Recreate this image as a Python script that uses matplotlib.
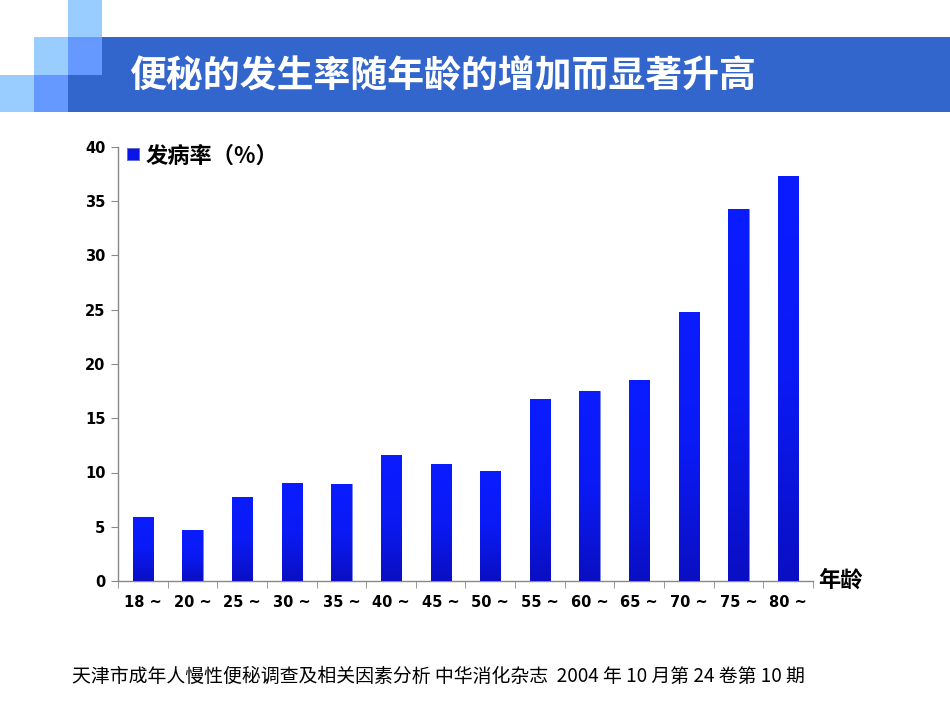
import matplotlib
matplotlib.use("Agg")
import matplotlib.pyplot as plt
import numpy as np
from matplotlib.patches import Rectangle
from matplotlib.colors import LinearSegmentedColormap

plt.rcParams['font.family'] = ['Noto Sans CJK SC', 'DejaVu Sans']

categories = ["18 ~", "20 ~", "25 ~", "30 ~", "35 ~", "40 ~", "45 ~", "50 ~",
              "55 ~", "60 ~", "65 ~", "70 ~", "75 ~", "80 ~"]
rates = [5.9, 4.7, 7.7, 9.0, 8.9, 11.6, 10.8, 10.1, 16.8, 17.5, 18.5, 24.8, 34.3, 37.3]
yticks = [0, 5, 10, 15, 20, 25, 30, 35, 40]
title = "便秘的发生率随年龄的增加而显著升高"
legend_label = "发病率（%）"
xlabel = "年龄"
footer = "天津市成年人慢性便秘调查及相关因素分析 中华消化杂志  2004 年 10 月第 24 卷第 10 期"

W, H = 950, 713
fig = plt.figure(figsize=(9.5, 7.13), dpi=100)
fig.patch.set_facecolor("white")

# header decoration (figure pixel coords)
deco = fig.add_axes([0, 0, 1, 1], zorder=-1)
deco.set_xlim(0, W)
deco.set_ylim(H, 0)
deco.axis("off")
light = "#99CCFF"
mid = "#6699FF"
band = "#3366CC"
deco.add_patch(Rectangle((102, 37), W - 102, 75, color=band, lw=0))
deco.add_patch(Rectangle((68, 75), 34, 37, color=band, lw=0))
deco.add_patch(Rectangle((68, 0), 34, 37, color=light, lw=0))
deco.add_patch(Rectangle((34, 37), 34, 38, color=light, lw=0))
deco.add_patch(Rectangle((68, 37), 34, 38, color=mid, lw=0))
deco.add_patch(Rectangle((0, 75), 34, 37, color=light, lw=0))
deco.add_patch(Rectangle((34, 75), 34, 37, color=mid, lw=0))
deco.text(129, 77, title, color="white", fontsize=26.6, fontweight="bold",
          va="center", ha="left")
deco.text(72, 676, footer, color="black", fontsize=13.6, va="center", ha="left")

# main chart
left, right = 118 / W, 813 / W
bottom, top = 1 - 581 / H, 1 - 147 / H
ax = fig.add_axes([left, bottom, right - left, top - bottom])
ax.patch.set_alpha(0)
x = np.arange(len(categories))
bars = ax.bar(x, rates, width=0.41, color="#0A14E6", edgecolor="#7A86E8",
              linewidth=0.6, zorder=2)

grad = np.linspace(0, 1, 256).reshape(-1, 1)
cmap = LinearSegmentedColormap.from_list("g", ["#0A0FC2", "#0A1AF5", "#0A1CFF"])
for b in bars:
    x0, w, h = b.get_x(), b.get_width(), b.get_height()
    im = ax.imshow(grad, extent=[x0, x0 + w, 0, h], origin="lower", cmap=cmap,
                   aspect="auto", zorder=3)
    im.set_clip_path(b)

tick_font = dict(family="DejaVu Sans", size=10.5, weight="bold")
ax.set_xlim(-0.5, len(categories) - 0.5)
ax.set_ylim(0, 40)
ax.set_yticks(yticks)
ax.set_yticklabels([str(v) for v in yticks], fontdict=tick_font)
ax.set_xticks(x)
ax.set_xticklabels(categories, fontdict=tick_font)
ax.set_xticks(np.arange(-0.5, len(categories)), minor=True)
ax.tick_params(axis="x", which="major", length=0, pad=10)
ax.tick_params(axis="x", which="minor", length=5, color="#888888", direction="out")
ax.tick_params(axis="y", which="major", length=5, color="#888888", direction="out", pad=4)
for s in ["top", "right"]:
    ax.spines[s].set_visible(False)
for s in ["left", "bottom"]:
    ax.spines[s].set_color("#888888")
    ax.spines[s].set_linewidth(1.0)

# legend and axis label overlay
ov = fig.add_axes([0, 0, 1, 1], zorder=5)
ov.set_xlim(0, W)
ov.set_ylim(H, 0)
ov.axis("off")
ov.patch.set_alpha(0)
ov.add_patch(Rectangle((127, 148), 12, 12, facecolor="#0A14E6", edgecolor="#5A66D8", lw=0.6))
ov.text(146, 156, legend_label, fontsize=16, fontweight="bold", va="center", ha="left")
ov.text(818, 580, xlabel, fontsize=16, fontweight="bold", va="center", ha="left")

fig.savefig("out.png", dpi=100)
